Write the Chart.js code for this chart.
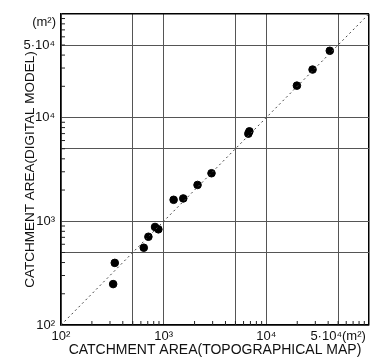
<!DOCTYPE html>
<html lang="en">
<head>
<meta charset="UTF-8">
<title>Catchment area comparison</title>
<script src="https://cdn.jsdelivr.net/npm/chart.js"></script>
<style>
  body { margin: 0; background: #fff; }
  #chart { display: block; }
</style>
</head>
<body>
<canvas id="chart" width="374" height="359"></canvas>
<script>
// catchment areas, m2 (topographical map vs digital model)
const topoArea  = [322, 334, 640, 710, 824, 888, 1250, 1552, 2138, 2924, 6680, 6840, 19850, 28200, 41500];
const modelArea = [248, 397, 556, 709, 881, 836, 1610, 1660, 2240, 2904, 6990, 7360, 20300, 29000, 44000];
const diagonal  = [100, 100000];

const tickValues = [100, 500, 1000, 5000, 10000, 50000, 100000];
const xTickLabels = {100: '10²', 1000: '10³', 10000: '10⁴', 50000: '5·10⁴(m²)'};
const yTickLabels = {100: '10²', 1000: '10³', 10000: '10⁴', 50000: '5·10⁴'};
const yUnit = '(m²)';

Chart.defaults.font.family = "'Liberation Sans', Arial, sans-serif";
Chart.defaults.color = '#111';

// small inward ticks at 2..9 of each decade, plus the unit on top of the y axis
const minorTicks = {
  id: 'minorTicks',
  afterDraw(chart) {
    const {ctx, chartArea, scales} = chart;
    ctx.save();
    ctx.strokeStyle = '#222';
    ctx.lineWidth = 1;
    for (let d = 100; d < 100000; d *= 10) {
      for (let k = 2; k <= 9; k++) {
        const px = scales.x.getPixelForValue(d * k);
        const py = scales.y.getPixelForValue(d * k);
        ctx.beginPath();
        ctx.moveTo(px, chartArea.bottom);
        ctx.lineTo(px, chartArea.bottom - 4);
        ctx.moveTo(chartArea.left, py);
        ctx.lineTo(chartArea.left + 4, py);
        ctx.stroke();
      }
    }
    ctx.fillStyle = '#111';
    ctx.font = "13px 'Liberation Sans', Arial, sans-serif";
    ctx.textAlign = 'right';
    ctx.textBaseline = 'middle';
    ctx.fillText(yUnit, chartArea.left - 5, scales.y.getPixelForValue(100000) + 9);
    ctx.restore();
  }
};

const setTicks = scale => { scale.ticks = tickValues.map(v => ({value: v})); };
const edge = v => v === 100 || v === 100000;

new Chart(document.getElementById('chart'), {
  type: 'scatter',
  data: {
    datasets: [{
      type: 'line',
      data: diagonal.map(v => ({x: v, y: v})),
      borderColor: '#444',
      borderWidth: 1,
      borderDash: [2, 3],
      pointRadius: 0,
      fill: false
    }, {
      data: topoArea.map((v, i) => ({x: v, y: modelArea[i]})),
      backgroundColor: '#000',
      borderColor: '#000',
      pointRadius: 3.8
    }]
  },
  options: {
    responsive: false,
    animation: false,
    layout: {padding: {top: 13, right: 4, left: 0, bottom: 0}},
    plugins: {legend: {display: false}, tooltip: {enabled: false}},
    scales: {
      x: {
        type: 'logarithmic',
        min: 100, max: 100000,
        afterBuildTicks: setTicks,
        afterFit: s => { s.height = 34; },
        border: {color: '#000', width: 1.5},
        grid: {
          drawTicks: false,
          color: c => edge(c.tick.value) ? '#000' : '#555',
          lineWidth: c => edge(c.tick.value) ? 1.5 : 1
        },
        ticks: {
          autoSkip: false, maxRotation: 0, padding: 4,
          font: {size: 13},
          callback: v => xTickLabels[v] || ''
        },
        title: {
          display: true,
          text: 'CATCHMENT AREA(TOPOGRAPHICAL MAP)',
          font: {size: 14},
          padding: {top: 0, bottom: 0}
        }
      },
      y: {
        type: 'logarithmic',
        min: 100, max: 100000,
        afterBuildTicks: setTicks,
        afterFit: s => { s.width = 61; },
        border: {color: '#000', width: 1.5},
        grid: {
          drawTicks: false,
          color: c => edge(c.tick.value) ? '#000' : '#555',
          lineWidth: c => edge(c.tick.value) ? 1.5 : 1
        },
        ticks: {
          autoSkip: false, padding: 6,
          font: {size: 13},
          callback: v => yTickLabels[v] || ''
        },
        title: {
          display: true,
          text: 'CATCHMENT AREA(DIGITAL MODEL)',
          font: {size: 13.5},
          padding: {top: 22, bottom: 0}
        }
      }
    }
  },
  plugins: [minorTicks]
});
</script>
</body>
</html>
